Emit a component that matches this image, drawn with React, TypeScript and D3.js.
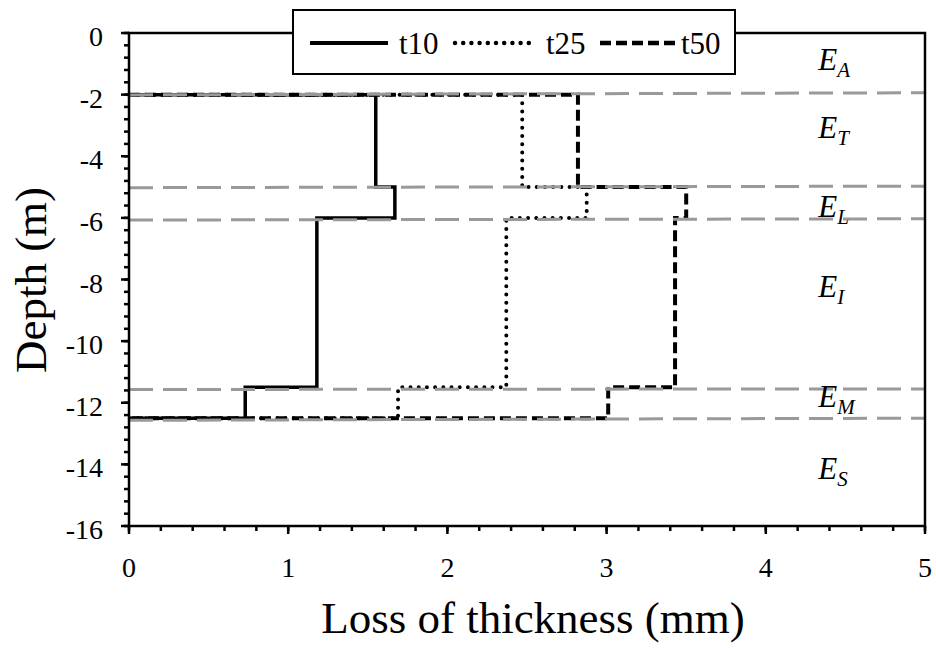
import React from "react";
import * as d3 from "d3";

// ---- data ----
const layerTop = [-2, -5, -6, -11.5];
const layerBottom = [-5, -6, -11.5, -12.5];
const t10 = [1.55, 1.67, 1.18, 0.73];
const t25 = [2.47, 2.875, 2.37, 1.69];
const t50 = [2.82, 3.5, 3.43, 3.01];
const seriesNames = ["t10", "t25", "t50"];

const zoneLeftDepth = [-2.01, -5.02, -6.07, -11.57, -12.57];
const zoneRightDepth = [-1.94, -4.97, -6.03, -11.55, -12.5];

const zoneNames = ["A", "T", "L", "I", "M", "S"];
const zoneLabelDepth = [-1.21, -3.42, -5.98, -8.58, -12.15, -14.46];
const zoneLabelX = 4.33;

const xMajor = [0, 1, 2, 3, 4, 5];
const yMajor = [0, -2, -4, -6, -8, -10, -12, -14, -16];

const W = 936;
const H = 649;
const FONT = "Liberation Serif, Times New Roman, serif";

const x = d3.scaleLinear().domain([0, 5]).range([129, 925]);
const y = d3.scaleLinear().domain([0, -16]).range([33, 526]);

const xMinor = d3.range(0, 5.0001, 0.2).map((v) => +v.toFixed(2));
const yMinor = d3.range(0, -16.0001, -0.4).map((v) => +v.toFixed(2));

function stepPoints(vals: number[]): [number, number][] {
  const pts: [number, number][] = [[0, layerTop[0]]];
  vals.forEach((v, i) => {
    pts.push([v, layerTop[i]]);
    pts.push([v, layerBottom[i]]);
  });
  pts.push([0, layerBottom[layerBottom.length - 1]]);
  return pts;
}

const line = d3
  .line<[number, number]>()
  .x((d) => x(d[0]))
  .y((d) => y(d[1]));

const styles = [
  { dash: undefined as string | undefined, width: 3.5, cap: "butt" },
  { dash: "0 8.2", width: 4, cap: "round" },
  { dash: "11 5", width: 4, cap: "butt" },
];

export default function App() {
  const series = [t10, t25, t50];
  const legendX = [310, 455, 600];
  const legendTextX = [399, 546, 681];
  return (
    <svg
      width={W}
      height={H}
      style={{ position: "absolute", left: 0, top: 0, background: "#fff" }}
      fontFamily={FONT}
    >
      <rect width={W} height={H} fill="#fff" />
      {/* data lines */}
      {series.map((s, i) => (
        <path
          key={seriesNames[i]}
          d={line(stepPoints(s)) || ""}
          fill="none"
          stroke="#000"
          strokeWidth={styles[i].width}
          strokeDasharray={styles[i].dash}
          strokeLinecap={styles[i].cap as any}
        />
      ))}
      {/* zone boundary lines */}
      {zoneLeftDepth.map((d, i) => (
        <line
          key={"z" + i}
          x1={x(0)}
          x2={x(5)}
          y1={y(d)}
          y2={y(zoneRightDepth[i])}
          stroke="#999"
          strokeWidth={3}
          strokeDasharray="24 10"
        />
      ))}
      {/* zone labels */}
      {zoneNames.map((n, i) => (
        <text
          key={"l" + n}
          x={x(zoneLabelX)}
          y={y(zoneLabelDepth[i])}
          fontSize={31}
          fontStyle="italic"
          fontFamily={FONT}
        >
          E
          <tspan fontSize={21} dy={7}>
            {n}
          </tspan>
        </text>
      ))}
      {/* frame */}
      <rect
        x={x(0)}
        y={y(0)}
        width={x(5) - x(0)}
        height={y(-16) - y(0)}
        fill="none"
        stroke="#000"
        strokeWidth={2.5}
      />
      {/* y ticks */}
      {yMinor.map((v) => (
        <line key={"ym" + v} x1={x(0) - 5} x2={x(0)} y1={y(v)} y2={y(v)} stroke="#000" strokeWidth={2.5} />
      ))}
      {yMajor.map((v) => (
        <g key={"yM" + v}>
          <line x1={x(0) - 8} x2={x(0)} y1={y(v)} y2={y(v)} stroke="#000" strokeWidth={2.5} />
          <text x={103} y={y(v) + 13} fontSize={28} textAnchor="end" fontFamily={FONT}>
            {v}
          </text>
        </g>
      ))}
      {/* x ticks */}
      {xMinor.map((v) => (
        <line key={"xm" + v} x1={x(v)} x2={x(v)} y1={y(-16)} y2={y(-16) + 5} stroke="#000" strokeWidth={2.5} />
      ))}
      {xMajor.map((v) => (
        <g key={"xM" + v}>
          <line x1={x(v)} x2={x(v)} y1={y(-16)} y2={y(-16) + 8} stroke="#000" strokeWidth={2.5} />
          <text x={x(v)} y={577} fontSize={28} textAnchor="middle" fontFamily={FONT}>
            {v}
          </text>
        </g>
      ))}
      {/* axis titles */}
      <text x={(x(0) + x(5)) / 2 + 6} y={633} fontSize={45} textAnchor="middle" fontFamily={FONT}>
        Loss of thickness (mm)
      </text>
      <text
        transform="translate(46,280) rotate(-90)"
        fontSize={45}
        textAnchor="middle"
        fontFamily={FONT}
      >
        Depth (m)
      </text>
      {/* legend */}
      <rect x={293} y={10} width={442} height={64} fill="#fff" stroke="#000" strokeWidth={2} />
      {seriesNames.map((n, i) => (
        <g key={"lg" + n}>
          <line
            x1={legendX[i]}
            x2={legendX[i] + 78}
            y1={43}
            y2={43}
            stroke="#000"
            strokeWidth={styles[i].width + 0.5}
            strokeDasharray={styles[i].dash}
            strokeLinecap={styles[i].cap as any}
          />
          <text x={legendTextX[i]} y={54} fontSize={31} fontFamily={FONT}>
            {n}
          </text>
        </g>
      ))}
    </svg>
  );
}
